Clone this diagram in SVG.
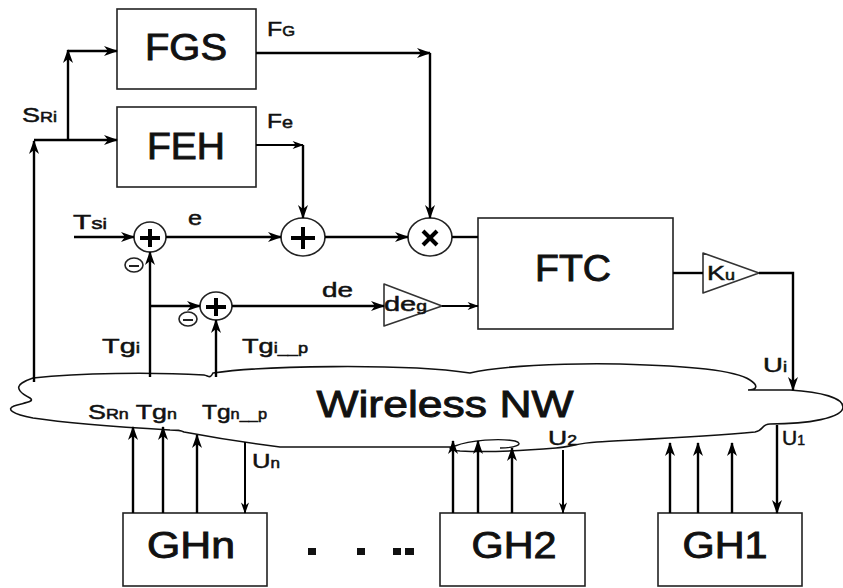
<svg xmlns="http://www.w3.org/2000/svg" width="843" height="588" viewBox="0 0 843 588">
<defs>
<marker id="ah" viewBox="0 0 14 10" refX="13" refY="5" markerWidth="15" markerHeight="10" markerUnits="userSpaceOnUse" orient="auto">
<path d="M0,0 L14,5 L0,10 L4,5 z" fill="#000"/>
</marker>
<marker id="ahs" viewBox="0 0 14 10" refX="13" refY="5" markerWidth="12" markerHeight="8" markerUnits="userSpaceOnUse" orient="auto">
<path d="M0,0 L14,5 L0,10 L4,5 z" fill="#000"/>
</marker>
</defs>
<style>
.box{fill:#fff;stroke:#222;stroke-width:1.6}
.big{font-family:"Liberation Sans",Arial,sans-serif;font-size:36px;fill:#111;stroke:#111;stroke-width:0.9;text-anchor:middle}
.lbl{font-family:"Liberation Sans",Arial,sans-serif;font-size:21px;fill:#111;stroke:#111;stroke-width:0.5}
.sub{font-size:14px}
.w{fill:none;stroke:#000;stroke-width:2.4}
.wa{fill:none;stroke:#000;stroke-width:2.4;marker-end:url(#ah)}
.ws{fill:none;stroke:#000;stroke-width:2;marker-end:url(#ahs)}
.sum{fill:#fff;stroke:#222;stroke-width:1.6}
.sym{stroke:#000;stroke-width:4;stroke-linecap:butt}
.tri{fill:#fff;stroke:#333;stroke-width:1.6;stroke-linejoin:round}
.cloud{fill:#fff;stroke:#111;stroke-width:1.6}
</style>
<rect width="843" height="588" fill="#fff"/>

<g id="cloud">
<path class="cloud" d="M 33 378 C 80 373, 150 372, 204 375 C 209 376, 210 379, 213 373 C 260 366, 400 363, 470 373 C 500 366, 560 363, 620 364 C 690 366, 735 370, 750 380 C 758 385, 758 390, 748 390 L 790 390 C 822 392, 843 398, 843 407 C 843 418, 808 424, 770 424 C 761 424, 765 430, 755 432 C 700 437, 630 440, 597 442 C 578 443, 570 447, 556 448 C 520 451, 480 452, 460 451 C 448 450, 448 447, 455 447 L 280 447 C 240 442, 200 435, 184 432 C 180 430, 178 430, 170 430 C 120 427, 60 422, 33 418 C 12 414, 6 409, 14 406 C 22 403, 36 402, 30 398 C 22 394, 14 388, 22 383 C 26 380, 30 379, 33 378 Z"/>
<path fill="none" stroke="#111" stroke-width="1.4" d="M 455 446 C 470 440, 500 438, 515 441 C 525 444, 515 448, 500 448"/>
<text class="big" x="445" y="417" textLength="257" lengthAdjust="spacingAndGlyphs">Wireless NW</text>
</g>

<g id="FGS"><rect class="box" x="117" y="9" width="139" height="80"/><text class="big" x="186" y="60" textLength="82" lengthAdjust="spacingAndGlyphs">FGS</text></g>
<g id="FEH"><rect class="box" x="117" y="107" width="139" height="80"/><text class="big" x="186" y="159" textLength="78" lengthAdjust="spacingAndGlyphs">FEH</text></g>
<g id="FTC"><rect class="box" x="478" y="218" width="195" height="111"/><text class="big" x="573" y="281" textLength="76" lengthAdjust="spacingAndGlyphs">FTC</text></g>
<g id="GHn"><rect class="box" x="123" y="513" width="144" height="73"/><text class="big" x="191" y="558" font-size="32" textLength="88" lengthAdjust="spacingAndGlyphs">GHn</text></g>
<g id="GH2"><rect class="box" x="440" y="513" width="145" height="73"/><text class="big" x="514" y="558" font-size="32" textLength="85" lengthAdjust="spacingAndGlyphs">GH2</text></g>
<g id="GH1"><rect class="box" x="658" y="513" width="144" height="73"/><text class="big" x="725" y="558" font-size="32" textLength="85" lengthAdjust="spacingAndGlyphs">GH1</text></g>

<g id="dots" fill="#111">
<rect x="308" y="548" width="8" height="7"/><rect x="357" y="548" width="8" height="7"/><rect x="393" y="548" width="8" height="7"/><rect x="405" y="548" width="9" height="7"/>
</g>

<g id="sum1"><ellipse class="sum" cx="150" cy="237" rx="16" ry="15"/><line class="sym" x1="140" y1="238" x2="160" y2="238"/><line class="sym" x1="150" y1="229" x2="150" y2="247"/></g>
<g id="minus1"><ellipse class="sum" cx="134" cy="265" rx="9" ry="7" stroke-width="1.2"/><line stroke="#222" stroke-width="2" x1="129" y1="266" x2="139" y2="266"/></g>
<g id="sum2"><ellipse class="sum" cx="303" cy="237" rx="22" ry="19"/><line class="sym" x1="291" y1="238" x2="315" y2="238" stroke-width="5"/><line class="sym" x1="303" y1="227" x2="303" y2="249" stroke-width="5"/></g>
<g id="mult"><ellipse class="sum" cx="430" cy="237" rx="22" ry="19"/><line class="sym" x1="423" y1="231" x2="437" y2="245"/><line class="sym" x1="437" y1="231" x2="423" y2="245"/></g>
<g id="sum3"><ellipse class="sum" cx="216" cy="306" rx="16" ry="14"/><line class="sym" x1="206" y1="307" x2="226" y2="307"/><line class="sym" x1="216" y1="298" x2="216" y2="316"/></g>
<g id="minus2"><ellipse class="sum" cx="188" cy="319" rx="9" ry="7" stroke-width="1.2"/><line stroke="#222" stroke-width="2" x1="183" y1="320" x2="193" y2="320"/></g>
<g id="deg"><path class="tri" d="M 384 284 L 442 306 L 384 326 Z"/><text class="lbl" x="384" y="311" font-size="21" textLength="43" lengthAdjust="spacingAndGlyphs">de<tspan class="sub" font-size="16">g</tspan></text></g>
<g id="Ku"><path class="tri" d="M 703 253 L 759 273 L 703 293 Z"/><text class="lbl" x="707" y="280" font-size="20" textLength="28" lengthAdjust="spacingAndGlyphs">K<tspan class="sub" font-size="14">u</tspan></text></g>

<g id="connectors">
<polyline class="wa" points="34,382 34,141"/>
<polyline class="wa" points="34,140 117,140"/>
<polyline class="wa" points="68,140 68,50"/>
<polyline class="wa" points="68,51 117,51"/>
<polyline class="wa" points="256,53 430,53"/>
<polyline class="wa" points="430,53 430,218"/>
<polyline class="ws" points="256,145 303,145"/>
<polyline class="wa" points="303,145 303,218"/>
<polyline class="wa" points="74,237 134,237"/>
<polyline class="wa" points="166,237 281,237"/>
<polyline class="wa" points="325,237 408,237"/>
<polyline class="w" points="452,237 478,237"/>
<polyline class="wa" points="150,377 150,252"/>
<polyline class="wa" points="150,306 200,306"/>
<polyline class="wa" points="216,377 216,320"/>
<polyline class="wa" points="232,306 384,306"/>
<polyline class="ws" points="442,306 478,306"/>
<polyline class="w" points="673,273 703,273" stroke-width="2"/>
<polyline class="wa" points="759,273 793,273 793,390"/>
<polyline class="wa" points="133,513 133,427"/>
<polyline class="wa" points="163,513 163,427"/>
<polyline class="wa" points="197,513 197,435"/>
<polyline class="ws" points="245,442 245,513"/>
<polyline class="wa" points="453,513 453,441"/>
<polyline class="wa" points="478,513 478,441"/>
<polyline class="wa" points="512,513 512,448"/>
<polyline class="ws" points="563,450 563,513"/>
<polyline class="wa" points="670,513 670,443"/>
<polyline class="wa" points="698,513 698,443"/>
<polyline class="wa" points="732,513 732,443"/>
<polyline class="wa" points="777,425 777,513"/>
</g>

<g id="labels">
<text class="lbl" x="22" y="122" textLength="35" lengthAdjust="spacingAndGlyphs">S<tspan class="sub">Ri</tspan></text>
<text class="lbl" x="267" y="36" font-size="18" textLength="28" lengthAdjust="spacingAndGlyphs">F<tspan class="sub" font-size="13">G</tspan></text>
<text class="lbl" x="267" y="128" font-size="18" textLength="26" lengthAdjust="spacingAndGlyphs">F<tspan font-size="17">e</tspan></text>
<text class="lbl" x="73" y="229" textLength="34" lengthAdjust="spacingAndGlyphs">T<tspan font-size="16">s</tspan><tspan class="sub">i</tspan></text>
<text class="lbl" x="188" y="225" textLength="14" lengthAdjust="spacingAndGlyphs">e</text>
<text class="lbl" x="322" y="297" textLength="31" lengthAdjust="spacingAndGlyphs">de</text>
<text class="lbl" x="102" y="353" textLength="38" lengthAdjust="spacingAndGlyphs">Tg<tspan class="sub">i</tspan></text>
<text class="lbl" x="242" y="353" textLength="66" lengthAdjust="spacingAndGlyphs">Tg<tspan class="sub">i</tspan><tspan class="sub" font-size="15">__p</tspan></text>
<text class="lbl" x="763" y="372" textLength="24" lengthAdjust="spacingAndGlyphs">U<tspan class="sub">i</tspan></text>
<text class="lbl" x="88" y="419" textLength="89" lengthAdjust="spacingAndGlyphs">S<tspan class="sub">Rn</tspan> Tg<tspan class="sub">n</tspan></text>
<text class="lbl" x="202" y="419" textLength="65" lengthAdjust="spacingAndGlyphs">Tg<tspan class="sub">n</tspan><tspan class="sub" font-size="15">__p</tspan></text>
<text class="lbl" x="252" y="468" textLength="28" lengthAdjust="spacingAndGlyphs">U<tspan class="sub">n</tspan></text>
<text class="lbl" x="548" y="445" textLength="29" lengthAdjust="spacingAndGlyphs">U<tspan class="sub">2</tspan></text>
<text class="lbl" x="782" y="445" textLength="23" lengthAdjust="spacingAndGlyphs">U<tspan class="sub">1</tspan></text>
</g>
</svg>
